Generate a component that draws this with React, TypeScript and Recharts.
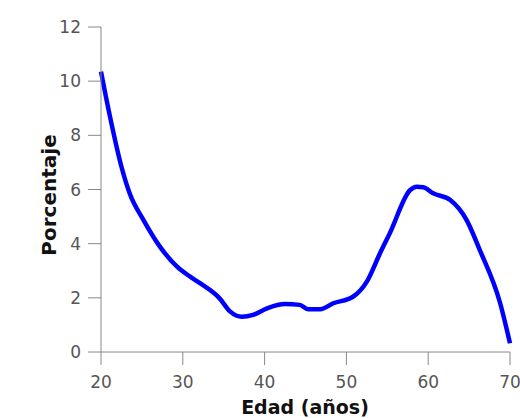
import React from 'react';
import { LineChart, Line, XAxis, YAxis, Label } from 'recharts';

const ages = [20, 21.1, 22.5, 23.5, 25.2, 27.2, 29.3, 30.9, 32.1, 34.5, 35.8, 37.2, 38.6, 40.3, 42.5, 44.3, 45.3, 46.8, 48.4, 50.8, 52.5, 54.1, 55.3, 57.8, 58.6, 59.4, 60.6, 62.7, 64.7, 66.3, 68.8, 70];
const percents = [10.35, 8.69, 6.84, 5.86, 4.87, 3.89, 3.15, 2.78, 2.54, 1.98, 1.49, 1.3, 1.37, 1.61, 1.77, 1.74, 1.58, 1.58, 1.8, 2.04, 2.6, 3.64, 4.38, 5.98, 6.1, 6.08, 5.86, 5.61, 4.87, 3.77, 1.8, 0.32];
const xTicks = [20, 30, 40, 50, 60, 70];
const yTicks = [0, 2, 4, 6, 8, 10, 12];

const data = ages.map((age, i) => ({ age, pct: percents[i] }));

const font = '"DejaVu Sans", sans-serif';
const axisColor = '#888';
const tickStyle = { fill: '#555', fontSize: 17, fontFamily: font };

export default function App() {
  return (
    <div style={{ position: 'absolute', left: 0, top: 0, width: 520, height: 418, background: '#fff', overflow: 'hidden' }}>
      <LineChart width={520} height={418} data={data} margin={{ top: 27, right: 10, bottom: 0, left: 0 }}>
        <XAxis
          dataKey="age"
          type="number"
          domain={[20, 70]}
          ticks={xTicks}
          height={66}
          tickSize={13}
          tickMargin={11}
          stroke={axisColor}
          tick={tickStyle}
        >
          <Label
            content={() => (
              <text x={305} y={414} textAnchor="middle" fill="#111" fontSize={19} fontWeight="bold" fontFamily={font}>
                Edad (años)
              </text>
            )}
          />
        </XAxis>
        <YAxis
          domain={[0, 12]}
          ticks={yTicks}
          width={101}
          tickSize={13}
          tickMargin={7}
          stroke={axisColor}
          tick={tickStyle}
        >
          <Label
            content={() => (
              <text transform="translate(56,195) rotate(-90)" textAnchor="middle" fill="#111" fontSize={20} fontWeight="bold" fontFamily={font}>
                Porcentaje
              </text>
            )}
          />
        </YAxis>
        <Line type="monotone" dataKey="pct" stroke="#0000ff" strokeWidth={4.5} dot={false} isAnimationActive={false} />
      </LineChart>
    </div>
  );
}
